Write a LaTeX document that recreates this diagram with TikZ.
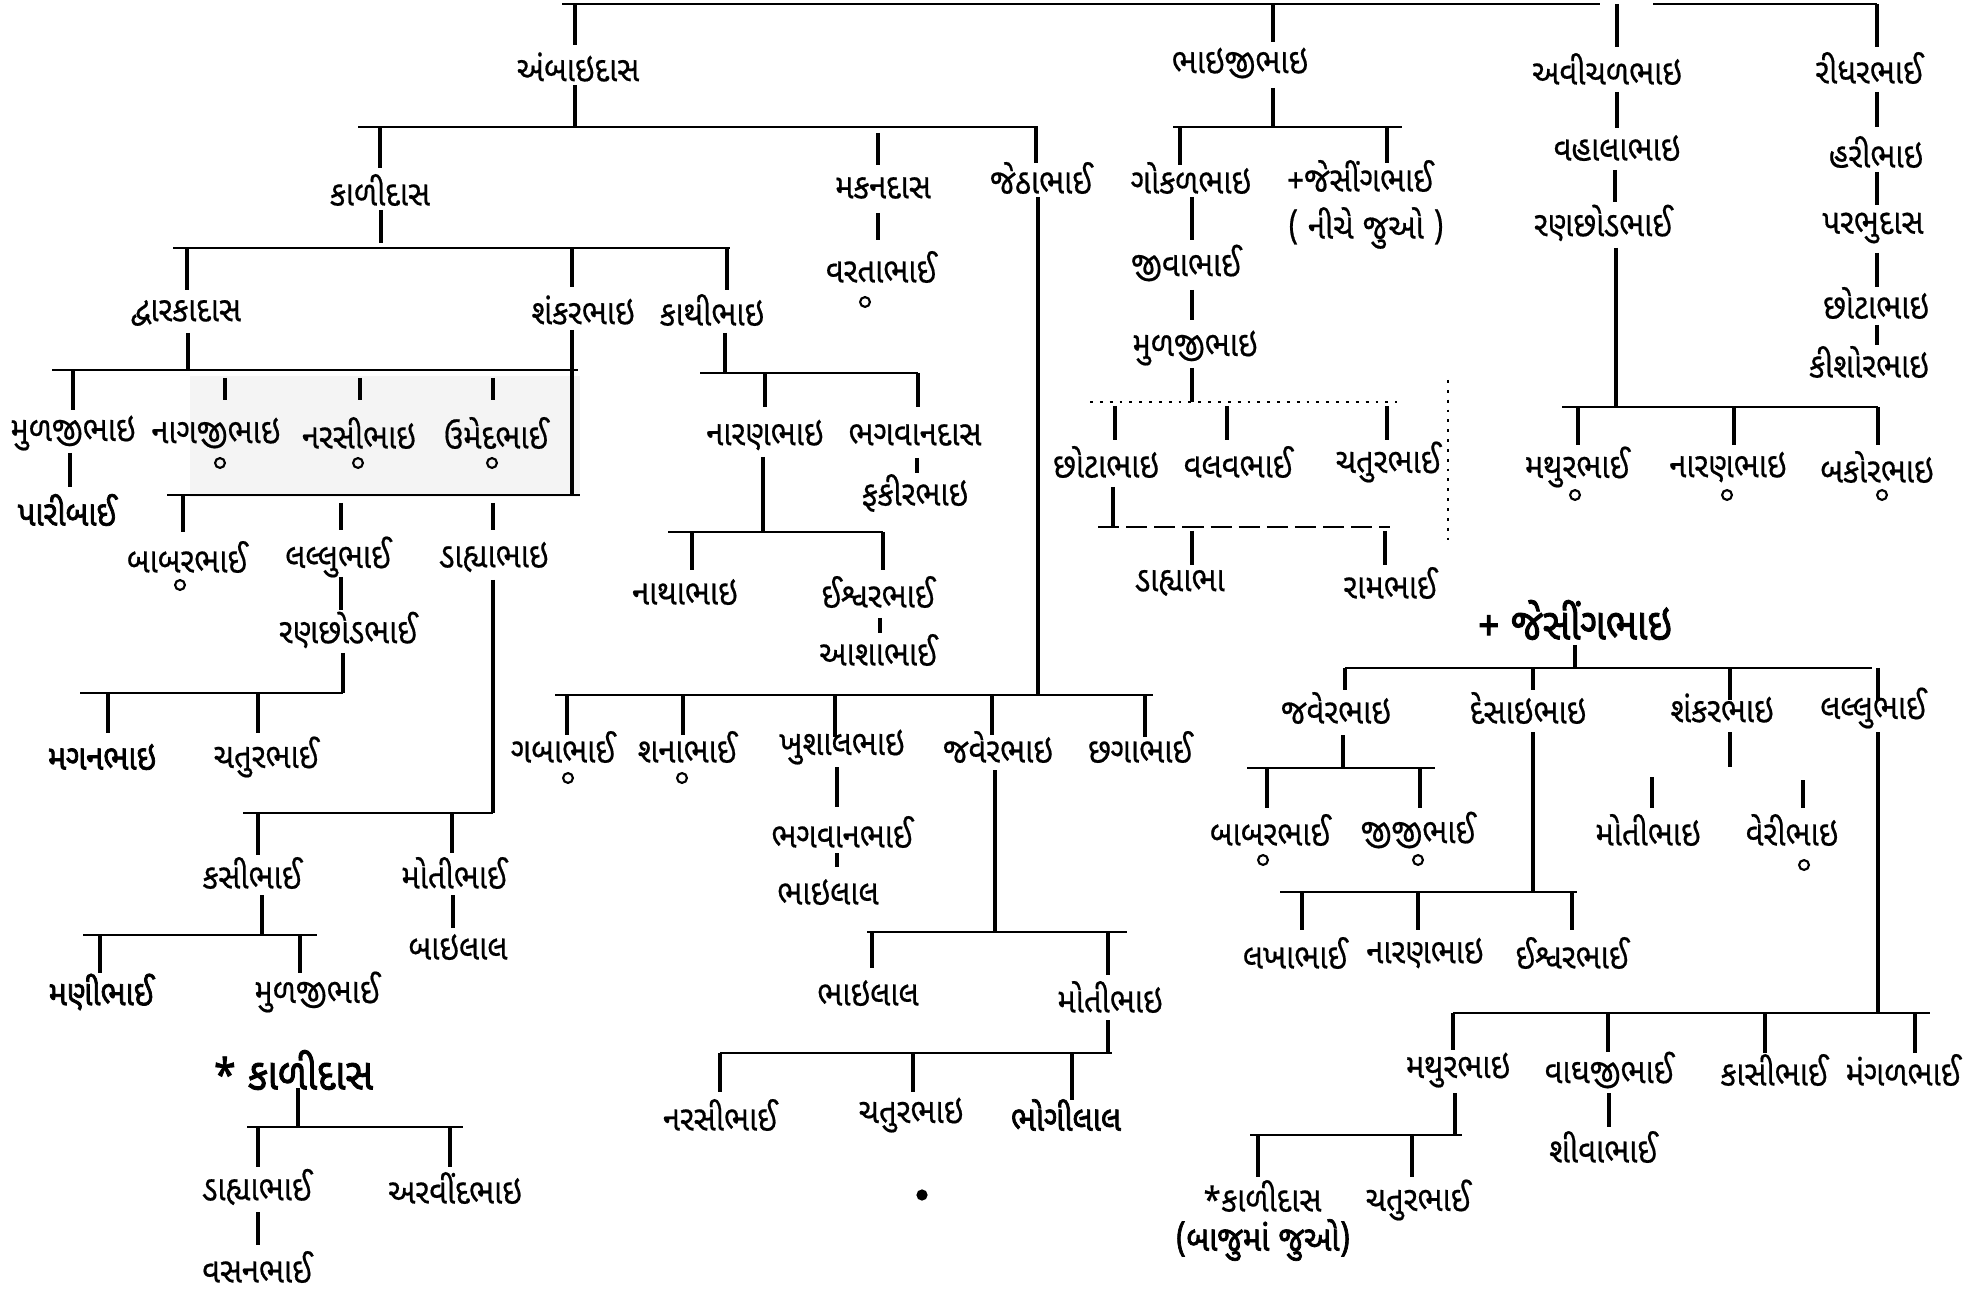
\documentclass[tikz,border=0pt]{standalone}
\usepackage{fontspec}
\newfontfamily\guj[Script=Gujarati,FakeStretch=0.88,FakeBold=0.5]{Noto Sans Gujarati UI}
\newfontfamily\gujb[Script=Gujarati,FakeStretch=0.88,FakeBold=2]{Noto Sans Gujarati UI}
\newcommand\vln[3]{\draw[vline] (#1,#2) -- (#1,#3);}
\newcommand\hln[3]{\draw[hline] (#2,#1) -- (#3,#1);}
\newcommand\ringmark[2]{\draw[ringst] (#1,#2) circle[radius=1.4pt];}
\tikzset{
 nm/.style={font=\guj\fontsize{10}{12}\selectfont, inner sep=0pt},
 nmb/.style={font=\gujb\fontsize{10}{12}\selectfont, inner sep=0pt},
 nmbig/.style={font=\gujb\fontsize{12.5}{15}\selectfont, inner sep=0pt},
 vline/.style={line width=1.1pt},
 hline/.style={line width=0.7pt},
 dotline/.style={line width=0.8pt, dotted},
 ringst/.style={line width=0.6pt},
}
\begin{document}
\begin{tikzpicture}[x=0.01cm,y=-0.01cm]
\fill[white] (0,0) rectangle (1986,1289);
\useasboundingbox (0,0) rectangle (1986,1289);
\fill[gray!9] (190,376) rectangle (580,497);

% ---------- top generation ----------
\hln{4}{562}{1600}
\hln{4}{1653}{1877}
\vln{575}{4}{45}
\vln{1273}{4}{42}
\vln{1617}{4}{47}
\vln{1877}{4}{47}
\node[nm] (a1) at (578,67) {અંબાઇદાસ};
\node[nm] (b1) at (1240,63) {ભાઇજીભાઇ};
\node[nm] (c1) at (1607,69) {અવીચળભાઇ};
\node[nm] (d1) at (1869,68) {રીધરભાઈ};

% ---------- અંબાઇદાસ ----------
\vln{575}{85}{127}
\hln{127}{358}{1038}
\vln{380}{127}{168}
\vln{878}{133}{165}
\vln{1036}{127}{163}
\node[nm] (kalidas1) at (380,190) {કાળીદાસ};
\node[nm] (makan) at (883,188) {મકનદાસ};
\node[nm] (jetha) at (1041,178) {જેઠાભાઈ};

\vln{381}{210}{243}
\hln{248}{173}{730}
\vln{187}{248}{290}
\vln{572}{248}{287}
\vln{727}{248}{290}
\node[nm] (dwarka) at (186,313) {દ્વારકાદાસ};
\node[nm] (shankar1) at (583,310) {શંકરભાઇ};
\node[nm] (kathi) at (712,310) {કાથીભાઇ};

\vln{188}{333}{370}
\hln{370}{52}{578}
\vln{73}{370}{410}
\vln{225}{378}{400}
\vln{360}{378}{400}
\vln{493}{378}{400}
\node[nm] (mulji1) at (73,433) {મુળજીભાઇ};
\node[nm] (nagji) at (216,433) {નાગજીભાઇ};
\node[nm] (narsi1) at (359,433) {નરસીભાઇ};
\node[nm] (umed) at (496,433) {ઉમેદભાઈ};
\ringmark{220}{463}
\ringmark{358}{463}
\ringmark{492}{463}
\vln{70}{453}{487}
\node[nmb] (pari) at (67,510) {પારીબાઈ};

\vln{572}{330}{495}
\hln{495}{167}{580}
\vln{183}{495}{532}
\vln{341}{503}{530}
\vln{493}{503}{530}
\node[nm] (babar1) at (187,557) {બાબરભાઈ};
\node[nm] (lallu1) at (338,557) {લલ્લુભાઈ};
\node[nm] (dahya1) at (494,557) {ડાહ્યાભાઇ};
\ringmark{180}{585}
\vln{341}{577}{610}
\node[nm] (ranchhod1) at (348,630) {રણછોડભાઈ};
\vln{343}{653}{693}
\hln{693}{80}{343}
\vln{108}{693}{733}
\vln{258}{693}{733}
\node[nmb] (magan) at (102,757) {મગનભાઇ};
\node[nm] (chatur1) at (266,757) {ચતુરભાઈ};

\vln{493}{580}{813}
\hln{813}{243}{493}
\vln{258}{813}{855}
\vln{452}{813}{853}
\node[nm] (kasi1) at (252,873) {કસીભાઈ};
\node[nm] (moti1) at (454,873) {મોતીભાઈ};
\vln{453}{895}{928}
\node[nm] (bailal1) at (458,947) {બાઇલાલ};
\vln{262}{895}{935}
\hln{935}{83}{317}
\vln{100}{935}{973}
\vln{300}{935}{973}
\node[nmb] (mani) at (101,992) {મણીભાઈ};
\node[nm] (mulji2) at (317,992) {મુળજીભાઈ};

\node[nmbig] (kalidas2) at (293,1070) {* કાળીદાસ};
\vln{298}{1088}{1127}
\hln{1127}{247}{463}
\vln{258}{1127}{1167}
\vln{450}{1127}{1167}
\node[nm] (dahya2) at (257,1187) {ડાહ્યાભાઈ};
\node[nm] (arvind) at (455,1188) {અરવીંદભાઇ};
\vln{258}{1212}{1245}
\node[nm] (vasan) at (257,1267) {વસનભાઈ};

% ---------- મકનદાસ ----------
\vln{878}{213}{240}
\node[nm] (varta) at (881,267) {વરતાભાઈ};
\ringmark{865}{302}

% ---------- કાથીભાઇ ----------
\vln{725}{333}{373}
\hln{373}{700}{918}
\vln{765}{373}{407}
\vln{918}{373}{407}
\node[nm] (naran1) at (765,435) {નારણભાઇ};
\node[nm] (bhagdas) at (915,435) {ભગવાનદાસ};
\vln{917}{458}{473}
\node[nm] (fakir) at (915,493) {ફકીરભાઇ};
\vln{763}{457}{532}
\hln{532}{668}{883}
\vln{692}{532}{570}
\vln{883}{532}{570}
\node[nm] (natha) at (685,592) {નાથાભાઇ};
\node[nm] (ishvar1) at (878,592) {ઈશ્વરભાઈ};
\vln{880}{618}{633}
\node[nm] (asha) at (878,650) {આશાભાઈ};

% ---------- જેઠાભાઈ ----------
\vln{1038}{197}{695}
\hln{695}{555}{1153}
\vln{567}{695}{735}
\vln{683}{695}{735}
\vln{835}{695}{737}
\vln{992}{695}{735}
\vln{1145}{695}{737}
\node[nm] (gaba) at (563,747) {ગબાભાઈ};
\node[nm] (shana) at (687,747) {શનાભાઈ};
\node[nm] (khushal) at (842,747) {ખુશાલભાઇ};
\node[nm] (javer1) at (998,747) {જવેરભાઇ};
\node[nm] (chhaga) at (1140,747) {છગાભાઈ};
\ringmark{568}{778}
\ringmark{682}{778}
\vln{837}{767}{807}
\node[nm] (bhagbhai) at (842,832) {ભગવાનભાઈ};
\vln{837}{853}{867}
\node[nm] (bailal2) at (828,892) {ભાઇલાલ};
\vln{995}{770}{932}
\hln{932}{867}{1127}
\vln{872}{932}{968}
\vln{1108}{932}{975}
\node[nm] (bailal3) at (868,993) {ભાઇલાલ};
\node[nm] (moti2) at (1110,997) {મોતીભાઇ};
\vln{1108}{1020}{1053}
\hln{1053}{720}{1112}
\vln{720}{1053}{1092}
\vln{913}{1053}{1092}
\vln{1072}{1053}{1100}
\node[nm] (narsi2) at (720,1115) {નરસીભાઈ};
\node[nm] (chatur2) at (911,1115) {ચતુરભાઇ};
\node[nmb] (bhogi) at (1066,1115) {ભોગીલાલ};
\fill (922,1195) circle[radius=1.6pt];

% ---------- ભાઇજીભાઇ ----------
\vln{1273}{88}{127}
\hln{127}{1173}{1402}
\vln{1180}{127}{165}
\vln{1387}{127}{163}
\node[nm] (gokal) at (1191,178) {ગોકળભાઇ};
\node[nm] (jesing1) at (1360,176) {+જેસીંગભાઈ};
\node[nm] (niche) at (1366,228) {( નીચે જુઓ )};
\vln{1192}{197}{240}
\node[nm] (jiva) at (1186,263) {જીવાભાઈ};
\vln{1192}{290}{320}
\node[nm] (mulji3) at (1195,348) {મુળજીભાઇ};
\vln{1192}{368}{402}
\draw[dotline] (1090,402) -- (1397,402);
\vln{1115}{406}{440}
\vln{1227}{406}{440}
\vln{1387}{406}{440}
\node[nm] (chhota1) at (1106,462) {છોટાભાઇ};
\node[nm] (valav) at (1238,462) {વલવભાઈ};
\node[nm] (chatur3) at (1388,462) {ચતુરભાઈ};
\vln{1113}{487}{527}
\draw[hline, dash pattern=on 6pt off 2pt] (1098,527) -- (1390,527);
\vln{1192}{531}{565}
\vln{1385}{531}{565}
\node[nm] (dahya3) at (1180,583) {ડાહ્યાભા};
\node[nm] (ram) at (1390,583) {રામભાઈ};
\draw[dotline] (1448,380) -- (1448,540);

% ---------- અવીચળભાઇ ----------
\vln{1617}{92}{128}
\node[nm] (vahala) at (1617,148) {વહાલાભાઇ};
\vln{1615}{170}{202}
\node[nm] (ranchhod2) at (1603,223) {રણછોડભાઈ};
\vln{1616}{248}{407}
\hln{407}{1562}{1878}
\vln{1578}{407}{445}
\vln{1734}{407}{445}
\vln{1878}{407}{445}
\node[nm] (mathur1) at (1577,467) {મથુરભાઈ};
\node[nm] (naran2) at (1728,467) {નારણભાઇ};
\node[nm] (bakor) at (1877,467) {બકોરભાઇ};
\ringmark{1575}{495}
\ringmark{1727}{495}
\ringmark{1882}{495}

% ---------- રીધરભાઈ ----------
\vln{1877}{92}{127}
\node[nm] (hari) at (1876,152) {હરીભાઇ};
\vln{1877}{172}{205}
\node[nm] (parbhu) at (1873,228) {પરભુદાસ};
\vln{1877}{253}{287}
\node[nm] (chhota2) at (1876,303) {છોટાભાઇ};
\vln{1877}{325}{345}
\node[nm] (kishor) at (1869,362) {કીશોરભાઇ};

% ---------- + જેસીંગભાઇ ----------
\node[nmbig] (jesing2) at (1575,620) {+ જેસીંગભાઇ};
\vln{1575}{645}{668}
\hln{668}{1345}{1872}
\vln{1345}{668}{690}
\vln{1533}{668}{690}
\vln{1730}{668}{700}
\vln{1878}{668}{700}
\node[nm] (javer2) at (1336,708) {જવેરભાઇ};
\node[nm] (desai) at (1528,708) {દેસાઇભાઇ};
\node[nm] (shankar2) at (1722,708) {શંકરભાઇ};
\node[nm] (lallu2) at (1873,708) {લલ્લુભાઈ};

\vln{1343}{735}{768}
\hln{768}{1247}{1435}
\vln{1267}{768}{808}
\vln{1420}{768}{808}
\node[nm] (babar2) at (1270,830) {બાબરભાઈ};
\node[nm] (jiji) at (1418,830) {જીજીભાઈ};
\ringmark{1263}{860}
\ringmark{1418}{860}

\vln{1533}{732}{892}
\hln{892}{1280}{1577}
\vln{1302}{892}{930}
\vln{1418}{892}{930}
\vln{1572}{892}{930}
\node[nm] (lakha) at (1295,953) {લખાભાઈ};
\node[nm] (naran3) at (1425,953) {નારણભાઇ};
\node[nm] (ishvar2) at (1572,953) {ઈશ્વરભાઈ};

\vln{1730}{732}{767}
\vln{1652}{777}{808}
\vln{1803}{780}{808}
\node[nm] (moti3) at (1648,830) {મોતીભાઇ};
\node[nm] (veri) at (1792,830) {વેરીભાઇ};
\ringmark{1804}{865}

\vln{1878}{732}{1013}
\hln{1013}{1453}{1930}
\vln{1453}{1013}{1050}
\vln{1608}{1013}{1052}
\vln{1765}{1013}{1053}
\vln{1915}{1013}{1053}
\node[nm] (mathur2) at (1458,1070) {મથુરભાઇ};
\node[nm] (vaghji) at (1609,1070) {વાઘજીભાઈ};
\node[nm] (kasi2) at (1774,1070) {કાસીભાઈ};
\node[nm] (mangal) at (1903,1070) {મંગળભાઈ};
\vln{1609}{1093}{1127}
\node[nm] (shiva) at (1603,1147) {શીવાભાઈ};
\vln{1455}{1093}{1135}
\hln{1135}{1250}{1462}
\vln{1258}{1135}{1177}
\vln{1412}{1135}{1177}
\node[nm] (kalidas3) at (1262,1196) {*કાળીદાસ};
\node[nmb] (bajuma) at (1263,1240) {(બાજુમાં જુઓ)};
\node[nm] (chatur4) at (1418,1200) {ચતુરભાઈ};
\end{tikzpicture}
\end{document}
